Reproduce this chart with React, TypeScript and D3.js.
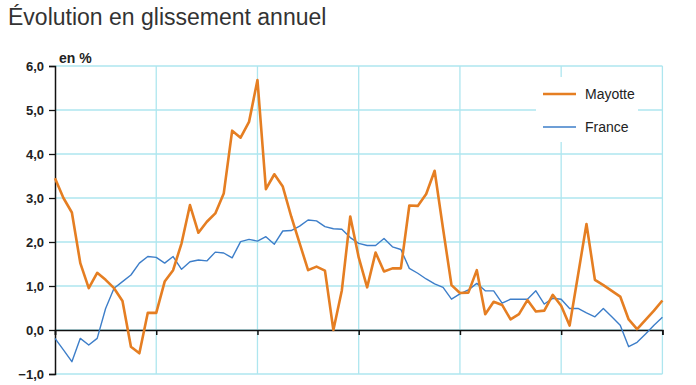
import React, { useEffect, useRef } from "react";
import * as d3 from "d3";

// monthly year-on-year change, 73 months (6 years + 1)
const mayotte = [
  3.45, 3.0, 2.67, 1.52, 0.95, 1.3, 1.14, 0.95, 0.66, -0.38, -0.53, 0.39, 0.39,
  1.1, 1.36, 1.97, 2.84, 2.21, 2.46, 2.65, 3.1, 4.53, 4.37, 4.73, 5.68,
  3.2, 3.54, 3.26, 2.58, 1.97, 1.36, 1.44, 1.35, 0.0, 0.9, 2.58, 1.65,
  0.97, 1.76, 1.33, 1.4, 1.4, 2.83, 2.82, 3.09, 3.62, 2.3, 1.02, 0.84,
  0.85, 1.36, 0.36, 0.64, 0.57, 0.24, 0.36, 0.68, 0.42, 0.44, 0.8, 0.55,
  0.1, 1.25, 2.41, 1.14, 1.02, 0.89, 0.76, 0.24, 0.02, 0.23, 0.44, 0.67,
];
const france = [
  -0.19, -0.45, -0.72, -0.19, -0.34, -0.19, 0.49, 0.95, 1.1, 1.25, 1.52, 1.67, 1.65,
  1.52, 1.67, 1.38, 1.55, 1.59, 1.57, 1.77, 1.75, 1.64, 2.01, 2.06, 2.02,
  2.12, 1.95, 2.25, 2.26, 2.36, 2.5, 2.48, 2.35, 2.3, 2.29, 2.1, 1.97,
  1.92, 1.92, 2.08, 1.89, 1.83, 1.4, 1.29, 1.16, 1.05, 0.97, 0.7, 0.82,
  0.91, 1.06, 0.89, 0.89, 0.61, 0.7, 0.7, 0.7, 0.89, 0.59, 0.72, 0.7,
  0.49, 0.49, 0.39, 0.3, 0.49, 0.3, 0.11, -0.38, -0.28, -0.09, 0.11, 0.29,
];
const yTicks = [-1, 0, 1, 2, 3, 4, 5, 6];
const yearTicks = [0, 12, 24, 36, 48, 60, 72];
const seriesNames = ["Mayotte", "France"];

const W = 696;
const H = 385;
const GRID = "#aee6ef";
const ORANGE = "#e57e22";
const BLUE = "#3d7ec9";

export default function App() {
  const ref = useRef<SVGSVGElement>(null);

  useEffect(() => {
    const svg = d3.select(ref.current);
    svg.selectAll("*").remove();

    const x = d3.scaleLinear().domain([0, 72]).range([55, 662.4]);
    const y = d3.scaleLinear().domain([-1, 6]).range([374, 66]);

    // title
    svg
      .append("text")
      .attr("x", 8)
      .attr("y", 25)
      .attr("font-family", "Liberation Sans, Arial, sans-serif")
      .attr("font-size", 23)
      .attr("fill", "#333")
      .text("Évolution en glissement annuel");

    // grid
    const grid = svg.append("g");
    grid
      .selectAll("line.h")
      .data(yTicks)
      .join("line")
      .attr("x1", x(0))
      .attr("x2", x(72))
      .attr("y1", (d) => y(d))
      .attr("y2", (d) => y(d))
      .attr("stroke", GRID)
      .attr("stroke-width", 1.3);
    grid
      .selectAll("line.v")
      .data(yearTicks.slice(1))
      .join("line")
      .attr("x1", (d) => x(d))
      .attr("x2", (d) => x(d))
      .attr("y1", y(6))
      .attr("y2", y(-1))
      .attr("stroke", GRID)
      .attr("stroke-width", 1.3);

    // legend background hides grid
    svg
      .append("rect")
      .attr("x", 536)
      .attr("y", 77)
      .attr("width", 102)
      .attr("height", 65)
      .attr("fill", "#fff");

    // y axis
    const yAxis = svg
      .append("g")
      .attr("transform", `translate(${x(0)},0)`)
      .call(
        d3
          .axisLeft(y)
          .tickValues(yTicks)
          .tickSize(6)
          .tickPadding(5)
          .tickFormat((d) => d3.format(".1f")(d as number).replace(".", ","))
      );
    yAxis.select(".domain").attr("stroke", "#111").attr("stroke-width", 1.5);
    yAxis.selectAll(".tick line").attr("stroke", "#111").attr("stroke-width", 1.3);
    yAxis
      .selectAll(".tick text")
      .attr("font-family", "Liberation Sans, Arial, sans-serif")
      .attr("font-size", 13)
      .attr("font-weight", "bold")
      .attr("fill", "#222");

    // x axis at zero
    const xAxis = svg
      .append("g")
      .attr("transform", `translate(0,${y(0)})`)
      .call(d3.axisBottom(x).tickValues(yearTicks).tickSize(5).tickFormat(() => ""));
    xAxis.select(".domain").attr("stroke", "#111").attr("stroke-width", 1.5);
    xAxis.selectAll(".tick line").attr("stroke", "#111").attr("stroke-width", 1.5);

    svg
      .append("text")
      .attr("x", 59)
      .attr("y", 63)
      .attr("font-family", "Liberation Sans, Arial, sans-serif")
      .attr("font-size", 14)
      .attr("font-weight", "bold")
      .attr("fill", "#222")
      .text("en %");

    const line = d3
      .line<number>()
      .x((_, i) => x(i))
      .y((d) => y(d));

    svg
      .append("path")
      .datum(france)
      .attr("d", line)
      .attr("fill", "none")
      .attr("stroke", BLUE)
      .attr("stroke-width", 1.4)
      .attr("stroke-linejoin", "round");
    svg
      .append("path")
      .datum(mayotte)
      .attr("d", line)
      .attr("fill", "none")
      .attr("stroke", ORANGE)
      .attr("stroke-width", 2.6)
      .attr("stroke-linejoin", "round");

    // legend
    const legend = svg.append("g");
    seriesNames.forEach((name, i) => {
      const ly = 94 + i * 33;
      legend
        .append("line")
        .attr("x1", 543)
        .attr("x2", 576)
        .attr("y1", ly)
        .attr("y2", ly)
        .attr("stroke", i === 0 ? ORANGE : BLUE)
        .attr("stroke-width", i === 0 ? 2.6 : 1.4);
      legend
        .append("text")
        .attr("x", 585)
        .attr("y", ly + 5)
        .attr("font-family", "Liberation Sans, Arial, sans-serif")
        .attr("font-size", 14)
        .attr("fill", "#222")
        .text(name);
    });
  }, []);

  return (
    <svg
      ref={ref}
      width={W}
      height={H}
      style={{ position: "absolute", left: 0, top: 0, background: "#fff" }}
    />
  );
}
